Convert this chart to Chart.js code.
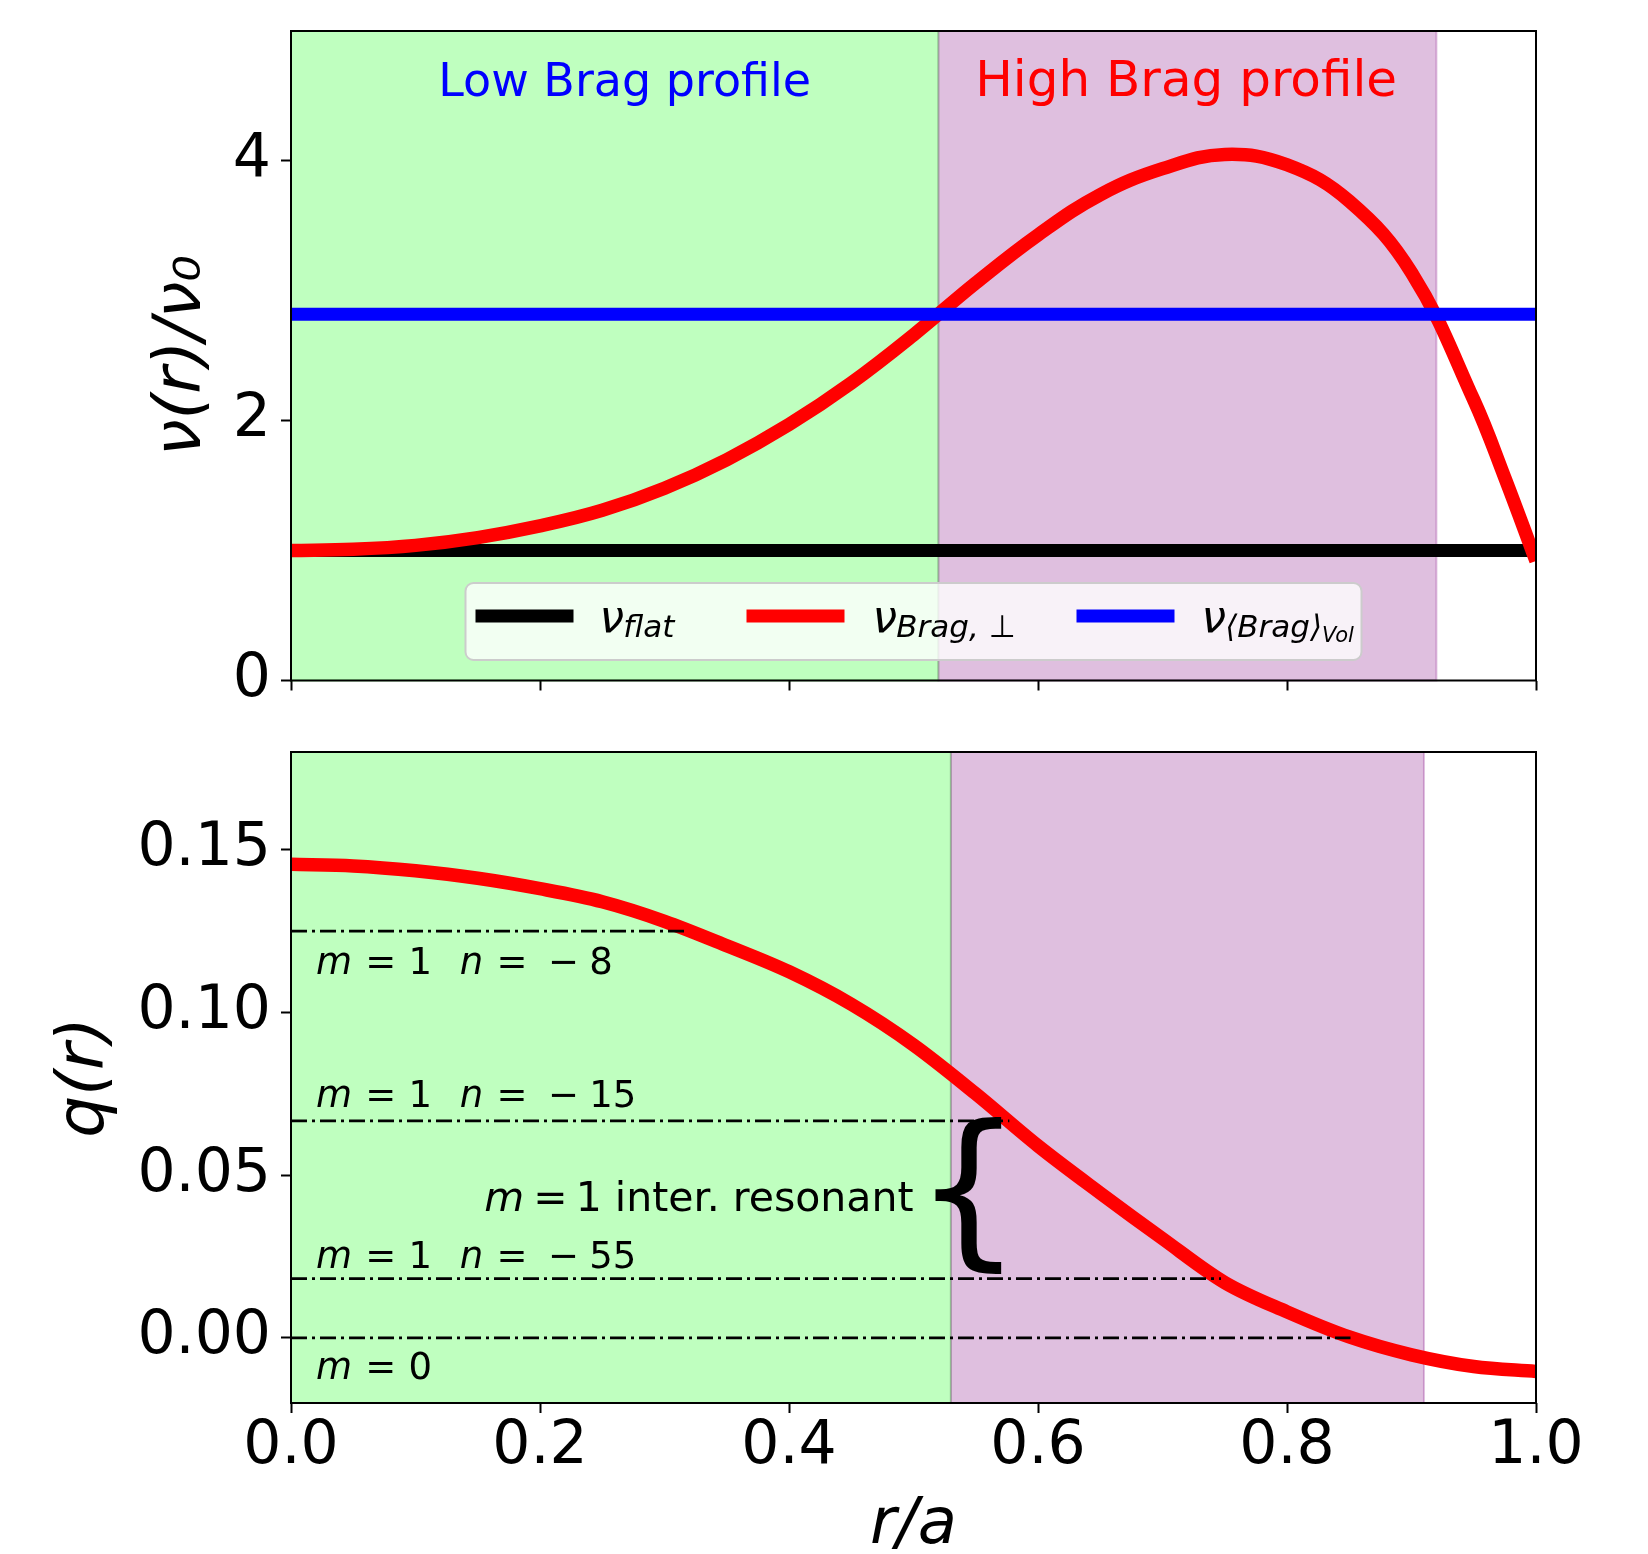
<!DOCTYPE html>
<html>
<head>
<meta charset="utf-8">
<script src="https://cdn.jsdelivr.net/npm/chart.js@4.4.1/dist/chart.umd.min.js"></script>
<style>
  html, body { margin: 0; padding: 0; background: #fff; }
  #wrap { position: relative; width: 1648px; height: 1554px; }
  canvas { position: absolute; left: 0; }
  #cNu { top: 0; }
  #cQ { top: 720px; }
</style>
</head>
<body>
<div id="wrap">
  <canvas id="cNu" width="1648" height="720"></canvas>
  <canvas id="cQ" width="1648" height="834"></canvas>
</div>
<script>
Chart.defaults.font.family = "DejaVu Sans";
Chart.defaults.color = "#000";

// --- top panel: viscosity profiles ---
var rNu = [0, 0.05, 0.1, 0.15, 0.2, 0.25, 0.3, 0.35, 0.4, 0.45, 0.5, 0.55, 0.6, 0.65, 0.7, 0.75, 0.8, 0.85, 0.9, 0.95, 0.975, 1.0];
var nuBrag = [1.0, 1.01, 1.04, 1.1, 1.19, 1.31, 1.48, 1.7, 1.97, 2.29, 2.66, 3.06, 3.43, 3.74, 3.94, 4.05, 3.97, 3.69, 3.14, 2.16, 1.56, 0.92];
var rFlat = [0, 1];
var nuFlat = [1.0, 1.0];
var nuVol = [2.82, 2.82];

// --- bottom panel: safety factor ---
var rQ = [0, 0.05, 0.1, 0.15, 0.2, 0.25, 0.3, 0.35, 0.4, 0.45, 0.5, 0.55, 0.6, 0.65, 0.7, 0.75, 0.8, 0.85, 0.9, 0.95, 1.0];
var qProfile = [0.1455, 0.145, 0.1435, 0.1412, 0.138, 0.134, 0.128, 0.1205, 0.1125, 0.1025, 0.09, 0.075, 0.059, 0.0445, 0.0305, 0.017, 0.008, 0.0003, -0.0052, -0.0088, -0.0103];

var qRes = [0.125, 0.0667, 0.0182, 0.0];
var rResEnd = [0.319, 0.577, 0.747, 0.851];
var resM = [1, 1, 1, 0];
var resN = [-8, -15, -55, null];
var resLabelQ = [0.1118, 0.071, 0.0216, -0.0127];

var xTicks = [0, 0.2, 0.4, 0.6, 0.8, 1.0];
var nuTicks = [0, 2, 4];
var qTicks = [0, 0.05, 0.1, 0.15];

var spansNu = [[0, 0.52], [0.52, 0.92]];
var spansQ = [[0, 0.53], [0.53, 0.91]];
var spanFill = ["rgba(0,255,0,0.25)", "rgba(128,0,128,0.25)"];

var regionLabels = ["Low Brag profile", "High Brag profile"];
var regionLabelR = [0.268, 0.719];
var regionColors = ["#0000ff", "#ff0000"];

var legendColors = ["#000000", "#ff0000", "#0000ff"];
var legendSubs = ["flat", "Brag, ⊥", "⟨Brag⟩"];
var legendSubSubs = ["", "", "Vol"];

function pts(xs, ys) {
  return xs.map(function (x, i) {
    return { x: x, y: ys[i] };
  });
}

function setTicks(list) {
  return function (scale) {
    scale.ticks = list.map(function (v) {
      return { value: v };
    });
  };
}

// fixed box size, no extra label padding pushed into the layout
function fixBox(w, h) {
  return function (s) {
    if (w != null) s.width = w;
    if (h != null) s.height = h;
    s.paddingTop = 0;
    s.paddingBottom = 0;
    s.paddingLeft = 0;
    s.paddingRight = 0;
  };
}

function spanPlugin(spans) {
  return {
    id: "spans",
    beforeDatasetsDraw: function (chart) {
      var a = chart.chartArea, xs = chart.scales.x, ctx = chart.ctx;
      ctx.save();
      spans.forEach(function (s, i) {
        var x0 = xs.getPixelForValue(s[0]), x1 = xs.getPixelForValue(s[1]);
        ctx.fillStyle = spanFill[i];
        ctx.fillRect(x0, a.top, x1 - x0, a.bottom - a.top);
        ctx.strokeStyle = spanFill[i];
        ctx.lineWidth = 2;
        ctx.strokeRect(x0, a.top, x1 - x0, a.bottom - a.top);
      });
      ctx.restore();
    },
  };
}

var framePlugin = {
  id: "frame",
  afterDatasetsDraw: function (chart) {
    var a = chart.chartArea, ctx = chart.ctx;
    ctx.save();
    ctx.strokeStyle = "#000";
    ctx.lineWidth = 2;
    ctx.strokeRect(a.left, a.top, a.right - a.left, a.bottom - a.top);
    ctx.restore();
  },
};

// draws a list of text pieces one after another (math-like labels)
function drawMath(ctx, x, y, parts, size, dry) {
  parts.forEach(function (p) {
    ctx.font = (p.it ? "italic " : "") + Math.round(size * (p.s || 1)) + "px 'DejaVu Sans'";
    if (!dry) ctx.fillText(p.t, x, y + (p.dy || 0) * size);
    x += ctx.measureText(p.t).width + (p.g || 0) * size;
  });
  return x;
}

function resParts(m, n) {
  var p = [{ t: "m", it: 1, g: 0.36 }, { t: "=", g: 0.33 }, { t: String(m) }];
  if (n !== null) {
    p[2].g = 0.75;
    p.push({ t: "n", it: 1, g: 0.36 }, { t: "=", g: 0.55 }, { t: "−", g: 0.28 }, { t: String(Math.abs(n)) });
  }
  return p;
}

var topTextPlugin = {
  id: "topText",
  afterDatasetsDraw: function (chart) {
    var ctx = chart.ctx, xs = chart.scales.x, ys = chart.scales.y, a = chart.chartArea;
    ctx.save();
    ctx.textBaseline = "alphabetic";
    ctx.textAlign = "center";
    regionLabels.forEach(function (t, i) {
      ctx.font = (i === 0 ? 46 : 50) + "px 'DejaVu Sans'";
      ctx.fillStyle = regionColors[i];
      ctx.fillText(t, xs.getPixelForValue(regionLabelR[i]), ys.getPixelForValue(4.5));
    });

    // legend, lower center
    var bw = 896, bh = 77;
    var bx = (a.left + a.right) / 2 - bw / 2;
    var by = a.bottom - 20.5 - bh;
    ctx.beginPath();
    ctx.roundRect(bx, by, bw, bh, 8);
    ctx.fillStyle = "rgba(255,255,255,0.8)";
    ctx.fill();
    ctx.strokeStyle = "#cccccc";
    ctx.lineWidth = 2;
    ctx.stroke();
    var handleX = [10, 281, 611], textX = [134, 407, 736];
    ctx.textAlign = "left";
    legendColors.forEach(function (c, i) {
      ctx.beginPath();
      ctx.moveTo(bx + handleX[i], by + 33);
      ctx.lineTo(bx + handleX[i] + 98, by + 33);
      ctx.strokeStyle = c;
      ctx.lineWidth = 13;
      ctx.stroke();
      ctx.fillStyle = "#000";
      var parts = [{ t: "ν", it: 1, g: -0.02 }, { t: legendSubs[i], it: 1, s: 0.7, dy: 0.12 }];
      if (legendSubSubs[i]) parts.push({ t: legendSubSubs[i], it: 1, s: 0.48, dy: 0.23 });
      drawMath(ctx, bx + textX[i], by + 49, parts, 44);
    });
    ctx.restore();
  },
};

var bottomTextPlugin = {
  id: "bottomText",
  afterDatasetsDraw: function (chart) {
    var ctx = chart.ctx, xs = chart.scales.x, ys = chart.scales.y;
    ctx.save();
    ctx.fillStyle = "#000";
    ctx.textBaseline = "alphabetic";
    ctx.textAlign = "left";
    var x0 = xs.getPixelForValue(0.02);
    resM.forEach(function (m, i) {
      drawMath(ctx, x0, ys.getPixelForValue(resLabelQ[i]), resParts(m, resN[i]), 37);
    });
    var inter = [{ t: "m", it: 1, g: 0.22 }, { t: "=", g: 0.2 }, { t: "1" }, { t: " inter. resonant" }];
    var w = drawMath(ctx, 0, 0, inter, 41, true);
    drawMath(ctx, xs.getPixelForValue(0.5) - w, ys.getPixelForValue(0.0391), inter, 41);
    ctx.font = "170px 'DejaVu Sans'";
    ctx.textAlign = "center";
    ctx.fillText("{", xs.getPixelForValue(0.544), ys.getPixelForValue(0.0281));
    ctx.restore();
  },
};

var tickFont = { size: 60, lineHeight: 1 };
var gridOpts = { drawOnChartArea: false, drawTicks: true, tickLength: 10, tickWidth: 2, tickColor: "#000" };

new Chart(document.getElementById("cNu"), {
  type: "line",
  data: {
    datasets: [
      { data: pts(rFlat, nuFlat), borderColor: "#000000", borderWidth: 13, order: 3, clip: 0 },
      { data: pts(rNu, nuBrag), borderColor: "#ff0000", borderWidth: 13.5, tension: 0.4, order: 2, clip: 0 },
      { data: pts(rFlat, nuVol), borderColor: "#0000ff", borderWidth: 13, order: 1, clip: 0 },
    ],
  },
  options: {
    responsive: false,
    animation: false,
    events: [],
    layout: { padding: { left: 150, top: 31, right: 112, bottom: 0 } },
    elements: { point: { radius: 0 }, line: { fill: false, borderCapStyle: "butt" } },
    plugins: { legend: { display: false }, tooltip: { enabled: false } },
    scales: {
      x: {
        type: "linear", min: 0, max: 1,
        afterBuildTicks: setTicks(xTicks),
        afterFit: fixBox(null, 39.5),
        ticks: { display: false },
        grid: gridOpts,
        border: { display: false },
      },
      y: {
        type: "linear", min: 0, max: 5,
        afterBuildTicks: setTicks(nuTicks),
        afterFit: fixBox(141, null),
        ticks: { font: tickFont, padding: 10, color: "#000" },
        grid: gridOpts,
        border: { display: false },
        title: { display: true, text: "ν(r)/ν₀", font: { size: 66, style: "italic", lineHeight: 1 }, padding: 0, color: "#000" },
      },
    },
  },
  plugins: [spanPlugin(spansNu), framePlugin, topTextPlugin],
});

var qDatasets = [
  { data: pts(rQ, qProfile), borderColor: "#ff0000", borderWidth: 13.5, cubicInterpolationMode: "monotone", order: 2, clip: 0 },
];
qRes.forEach(function (q, i) {
  qDatasets.push({
    data: pts([0, rResEnd[i]], [q, q]),
    borderColor: "#000000",
    borderWidth: 2.8,
    borderDash: [16, 5, 3, 5],
    order: 1,
    clip: 0,
  });
});

new Chart(document.getElementById("cQ"), {
  type: "line",
  data: { datasets: qDatasets },
  options: {
    responsive: false,
    animation: false,
    events: [],
    layout: { padding: { left: 53, top: 32, right: 112, bottom: 0 } },
    elements: { point: { radius: 0 }, line: { fill: false, borderCapStyle: "butt" } },
    plugins: { legend: { display: false }, tooltip: { enabled: false } },
    scales: {
      x: {
        type: "linear", min: 0, max: 1,
        afterBuildTicks: setTicks(xTicks),
        afterFit: fixBox(null, 151),
        ticks: { font: tickFont, padding: 4, color: "#000", maxRotation: 0, callback: function (v) { return v.toFixed(1); } },
        grid: gridOpts,
        border: { display: false },
        title: { display: true, text: "r/a", font: { size: 64, style: "italic", lineHeight: 1 }, padding: { top: 0, bottom: -4 }, color: "#000" },
      },
      y: {
        type: "linear", min: -0.02, max: 0.18,
        afterBuildTicks: setTicks(qTicks),
        afterFit: fixBox(238, null),
        ticks: { font: tickFont, padding: 10, color: "#000", callback: function (v) { return v.toFixed(2); } },
        grid: gridOpts,
        border: { display: false },
        title: { display: true, text: "q(r)", font: { size: 66, style: "italic", lineHeight: 1 }, padding: 0, color: "#000" },
      },
    },
  },
  plugins: [spanPlugin(spansQ), framePlugin, bottomTextPlugin],
});
</script>
</body>
</html>
